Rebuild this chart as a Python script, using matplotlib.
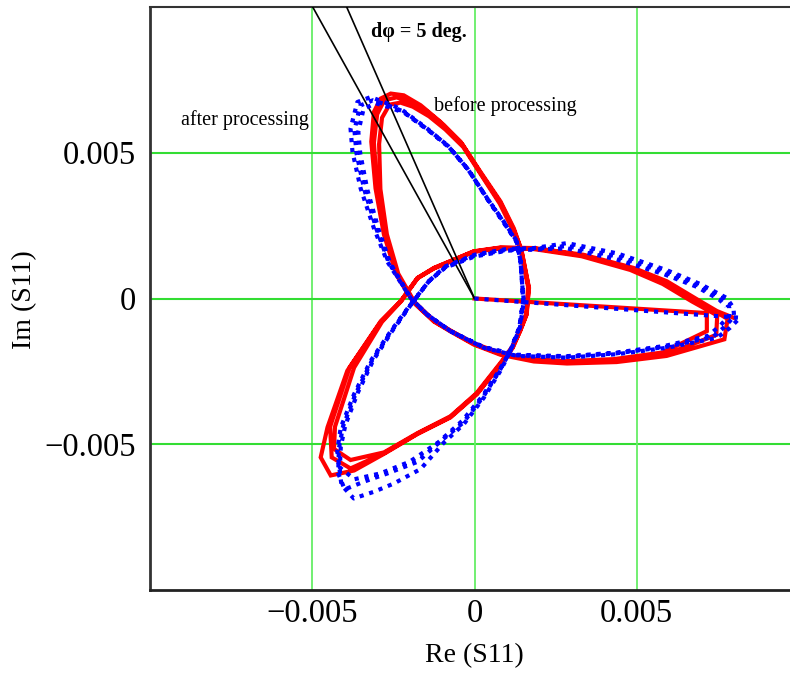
import matplotlib
matplotlib.use("Agg")
import matplotlib.pyplot as plt
import numpy as np

# ---------------- data ----------------
start_point = [0.0, 0.0]

red_re_1 = [0.00716, 0.00716, 0.00580, 0.00430, 0.00280, 0.00180, 0.00080, -0.00002, -0.00074, -0.00125,
            -0.00185, -0.00235, -0.00270, -0.00290, -0.00294, -0.00285, -0.00262, -0.00228, -0.00190, -0.00140,
            -0.00090, -0.00035, 0.00020, 0.00078, 0.00118, 0.00142, 0.00165, 0.00160, 0.00140, 0.00116,
            0.00082, 0.00006, -0.00074, -0.00176, -0.00279, -0.00382, -0.00433, -0.00430, -0.00371, -0.00285,
            -0.00225, -0.00175, -0.00125, -0.00005, 0.00080, 0.00180, 0.00330, 0.00480, 0.00580, 0.00670]
red_im_1 = [-0.00050, -0.00112, -0.00185, -0.00208, -0.00215, -0.00208, -0.00187, -0.00154, -0.00110, -0.00076,
            -0.00012, 0.00085, 0.00220, 0.00375, 0.00530, 0.00620, 0.00665, 0.00672, 0.00658, 0.00625,
            0.00580, 0.00520, 0.00425, 0.00325, 0.00235, 0.00170, 0.00040, -0.00052, -0.00110, -0.00166,
            -0.00218, -0.00325, -0.00404, -0.00462, -0.00528, -0.00554, -0.00516, -0.00440, -0.00237, -0.00080,
            -0.00008, 0.00070, 0.00103, 0.00160, 0.00172, 0.00170, 0.00145, 0.00098, 0.00050, -0.00010]

red_re_2 = [0.00748, 0.00745, 0.00590, 0.00435, 0.00283, 0.00182, 0.00080, -0.00002, -0.00074, -0.00125,
            -0.00186, -0.00238, -0.00275, -0.00300, -0.00310, -0.00300, -0.00278, -0.00240, -0.00200, -0.00150,
            -0.00095, -0.00038, 0.00019, 0.00079, 0.00120, 0.00144, 0.00167, 0.00161, 0.00141, 0.00117,
            0.00084, 0.00007, -0.00074, -0.00176, -0.00279, -0.00382, -0.00440, -0.00445, -0.00385, -0.00288,
            -0.00227, -0.00176, -0.00125, -0.00003, 0.00080, 0.00182, 0.00333, 0.00485, 0.00588, 0.00685,
            0.00720]
red_im_2 = [-0.00058, -0.00125, -0.00192, -0.00213, -0.00219, -0.00212, -0.00190, -0.00156, -0.00111, -0.00078,
            -0.00013, 0.00082, 0.00220, 0.00378, 0.00535, 0.00632, 0.00680, 0.00690, 0.00675, 0.00645,
            0.00595, 0.00530, 0.00430, 0.00330, 0.00238, 0.00168, 0.00038, -0.00054, -0.00111, -0.00168,
            -0.00219, -0.00327, -0.00406, -0.00464, -0.00531, -0.00583, -0.00545, -0.00440, -0.00237, -0.00079,
            -0.00009, 0.00070, 0.00104, 0.00161, 0.00174, 0.00172, 0.00148, 0.00102, 0.00055, -0.00008,
            -0.00030]

red_re_3 = [0.00780, 0.00770, 0.00592, 0.00438, 0.00285, 0.00183, 0.00080, -0.00002, -0.00074, -0.00125,
            -0.00187, -0.00240, -0.00279, -0.00305, -0.00318, -0.00310, -0.00289, -0.00258, -0.00218, -0.00166,
            -0.00105, -0.00043, 0.00018, 0.00080, 0.00121, 0.00145, 0.00168, 0.00160, 0.00140, 0.00118,
            0.00085, 0.00008, -0.00074, -0.00176, -0.00279, -0.00371, -0.00443, -0.00474, -0.00453, -0.00392,
            -0.00289, -0.00228, -0.00176, -0.00125, -0.00002, 0.00080, 0.00183, 0.00336, 0.00490, 0.00593,
            0.00695, 0.00747, 0.00798]
red_im_3 = [-0.00070, -0.00140, -0.00197, -0.00218, -0.00223, -0.00216, -0.00193, -0.00158, -0.00113, -0.00079,
            -0.00015, 0.00080, 0.00219, 0.00378, 0.00538, 0.00640, 0.00686, 0.00703, 0.00697, 0.00663,
            0.00606, 0.00538, 0.00435, 0.00333, 0.00241, 0.00165, 0.00036, -0.00055, -0.00112, -0.00169,
            -0.00220, -0.00328, -0.00408, -0.00465, -0.00533, -0.00590, -0.00607, -0.00545, -0.00442, -0.00248,
            -0.00078, -0.00010, 0.00070, 0.00105, 0.00162, 0.00175, 0.00173, 0.00150, 0.00105, 0.00059,
            -0.00009, -0.00043, -0.00066]

blue_re_1 = [0.00818, 0.00788, 0.00747, 0.00593, 0.00439, 0.00285, 0.00131, 0.00029, -0.00074, -0.00146,
             -0.00197, -0.00269, -0.00310, -0.00351, -0.00376, -0.00382, -0.00361, -0.00320, -0.00279, -0.00228,
             -0.00146, -0.00084, -0.00022, 0.00039, 0.00090, 0.00131, 0.00142, 0.00147, 0.00152, 0.00140,
             0.00111, 0.00080, 0.00029, -0.00033, -0.00095, -0.00166, -0.00249, -0.00310, -0.00372, -0.00410,
             -0.00423, -0.00412, -0.00371, -0.00320, -0.00258, -0.00197, -0.00140, -0.00090, 0.00000, 0.00100,
             0.00183, 0.00285, 0.00439, 0.00593, 0.00695, 0.00777, 0.00798]
blue_im_1 = [-0.00066, -0.00100, -0.00135, -0.00169, -0.00191, -0.00203, -0.00197, -0.00169, -0.00112, -0.00055,
             0.00002, 0.00127, 0.00241, 0.00378, 0.00503, 0.00583, 0.00674, 0.00691, 0.00674, 0.00651,
             0.00583, 0.00526, 0.00446, 0.00344, 0.00264, 0.00196, 0.00127, 0.00048, -0.00009, -0.00100,
             -0.00180, -0.00248, -0.00340, -0.00431, -0.00495, -0.00585, -0.00635, -0.00663, -0.00686, -0.00640,
             -0.00522, -0.00442, -0.00328, -0.00214, -0.00112, -0.00020, 0.00060, 0.00110, 0.00150, 0.00170,
             0.00173, 0.00190, 0.00155, 0.00097, 0.00050, 0.00002, -0.00032]

blue_re_2 = [0.00800, 0.00770, 0.00735, 0.00590, 0.00437, 0.00284, 0.00131, 0.00029, -0.00074, -0.00146,
             -0.00197, -0.00265, -0.00302, -0.00340, -0.00364, -0.00370, -0.00352, -0.00313, -0.00272, -0.00222,
             -0.00142, -0.00080, -0.00020, 0.00040, 0.00090, 0.00130, 0.00142, 0.00147, 0.00150, 0.00138,
             0.00110, 0.00078, 0.00027, -0.00035, -0.00105, -0.00175, -0.00268, -0.00340, -0.00400, -0.00420,
             -0.00418, -0.00405, -0.00366, -0.00316, -0.00256, -0.00196, -0.00140, -0.00090, 0.00000, 0.00100,
             0.00183, 0.00285, 0.00437, 0.00590, 0.00690, 0.00765, 0.00785]
blue_im_2 = [-0.00062, -0.00098, -0.00132, -0.00166, -0.00188, -0.00200, -0.00195, -0.00168, -0.00112, -0.00055,
             0.00002, 0.00125, 0.00238, 0.00375, 0.00500, 0.00578, 0.00662, 0.00680, 0.00665, 0.00643,
             0.00578, 0.00522, 0.00443, 0.00342, 0.00262, 0.00195, 0.00127, 0.00048, -0.00009, -0.00100,
             -0.00180, -0.00246, -0.00337, -0.00426, -0.00490, -0.00560, -0.00600, -0.00628, -0.00655, -0.00600,
             -0.00515, -0.00438, -0.00326, -0.00213, -0.00112, -0.00020, 0.00060, 0.00108, 0.00147, 0.00167,
             0.00170, 0.00180, 0.00145, 0.00090, 0.00045, 0.00000, -0.00030]

blue_re_3 = [0.00785, 0.00755, 0.00720, 0.00585, 0.00435, 0.00283, 0.00131, 0.00029, -0.00074, -0.00146,
             -0.00197, -0.00260, -0.00295, -0.00330, -0.00352, -0.00358, -0.00342, -0.00305, -0.00265, -0.00215,
             -0.00138, -0.00078, -0.00018, 0.00040, 0.00090, 0.00130, 0.00142, 0.00147, 0.00150, 0.00138,
             0.00110, 0.00078, 0.00025, -0.00038, -0.00112, -0.00200, -0.00290, -0.00370, -0.00415, -0.00412,
             -0.00398, -0.00360, -0.00312, -0.00254, -0.00195, -0.00140, -0.00090, 0.00000, 0.00100, 0.00183,
             0.00285, 0.00435, 0.00585, 0.00685, 0.00755, 0.00775]
blue_im_3 = [-0.00060, -0.00095, -0.00128, -0.00163, -0.00186, -0.00198, -0.00193, -0.00167, -0.00112, -0.00055,
             0.00002, 0.00122, 0.00235, 0.00372, 0.00497, 0.00572, 0.00650, 0.00670, 0.00657, 0.00636,
             0.00573, 0.00518, 0.00440, 0.00340, 0.00260, 0.00194, 0.00127, 0.00048, -0.00009, -0.00100,
             -0.00180, -0.00244, -0.00334, -0.00420, -0.00494, -0.00560, -0.00600, -0.00620, -0.00580, -0.00508,
             -0.00434, -0.00324, -0.00212, -0.00112, -0.00020, 0.00060, 0.00106, 0.00144, 0.00164, 0.00168,
             0.00172, 0.00135, 0.00083, 0.00040, -0.00004, -0.00028]

ray_angles_deg = [111.5, 116.5]
ray_length = 0.0125

tick_values = [-0.005, 0.0, 0.005]
tick_labels = ["\u22120.005", "0", "0.005"]

# ---------------- plot ----------------
plt.rcParams['font.family'] = ['Liberation Serif', 'DejaVu Serif']

fig = plt.figure(figsize=(7.9, 6.75), dpi=100)
ax = fig.add_axes([150 / 790, 85 / 675, 649 / 790, 583 / 675])
ax.set_xlim(-0.01, 0.01)
ax.set_ylim(-0.01, 0.01)

# grid lines
for v in tick_values:
    ax.axvline(v, color='#66ee66', lw=1.3, zorder=0)
    ax.axhline(v, color='#33dd33', lw=1.5, zorder=0)

red_re = np.concatenate([[start_point[0]], red_re_1, red_re_2, red_re_3])
red_im = np.concatenate([[start_point[1]], red_im_1, red_im_2, red_im_3])
blue_re = np.concatenate([[start_point[0]], blue_re_1, blue_re_2, blue_re_3])
blue_im = np.concatenate([[start_point[1]], blue_im_1, blue_im_2, blue_im_3])

ax.plot(red_re, red_im, color='#ff0000', lw=3.0, solid_joinstyle='miter', zorder=2)

for a in ray_angles_deg:
    t = np.deg2rad(a)
    ax.plot([0, ray_length * np.cos(t)], [0, ray_length * np.sin(t)], color='black', lw=1.2, zorder=3)

ax.plot(blue_re, blue_im, color='#0000ff', lw=3.0, linestyle=(0, (1.0, 1.4)),
        dash_capstyle='butt', zorder=4)

ax.text(-0.0032, 0.00914, "d\u03c6 = 5 deg.", fontsize=14.5, fontweight='bold', va='center', ha='left')
ax.text(-0.00126, 0.0066, "before processing", fontsize=14.5, va='center', ha='left')
ax.text(-0.00905, 0.00613, "after processing", fontsize=14.5, va='center', ha='left')

ax.set_xticks(tick_values)
ax.set_xticklabels(tick_labels)
ax.set_yticks(tick_values)
ax.set_yticklabels(tick_labels)
ax.tick_params(axis='both', length=0, labelsize=23.5)
ax.tick_params(axis='x', pad=6)
ax.tick_params(axis='y', pad=10)

ax.set_xlabel("Re (S11)", fontsize=20)
ax.set_ylabel("Im (S11)", fontsize=20)
ax.xaxis.set_label_coords(0.4992, -0.1132)
ax.xaxis.label.set_va('center')
ax.yaxis.set_label_coords(-0.1926, 0.4974)
ax.yaxis.label.set_va('center')

ax.spines['right'].set_visible(False)
ax.spines['left'].set_color('#333333')
ax.spines['left'].set_linewidth(2)
ax.spines['bottom'].set_color('#222222')
ax.spines['bottom'].set_linewidth(2)
ax.spines['top'].set_color('#333333')
ax.spines['top'].set_linewidth(1.5)

fig.savefig("out.png", dpi=100)
